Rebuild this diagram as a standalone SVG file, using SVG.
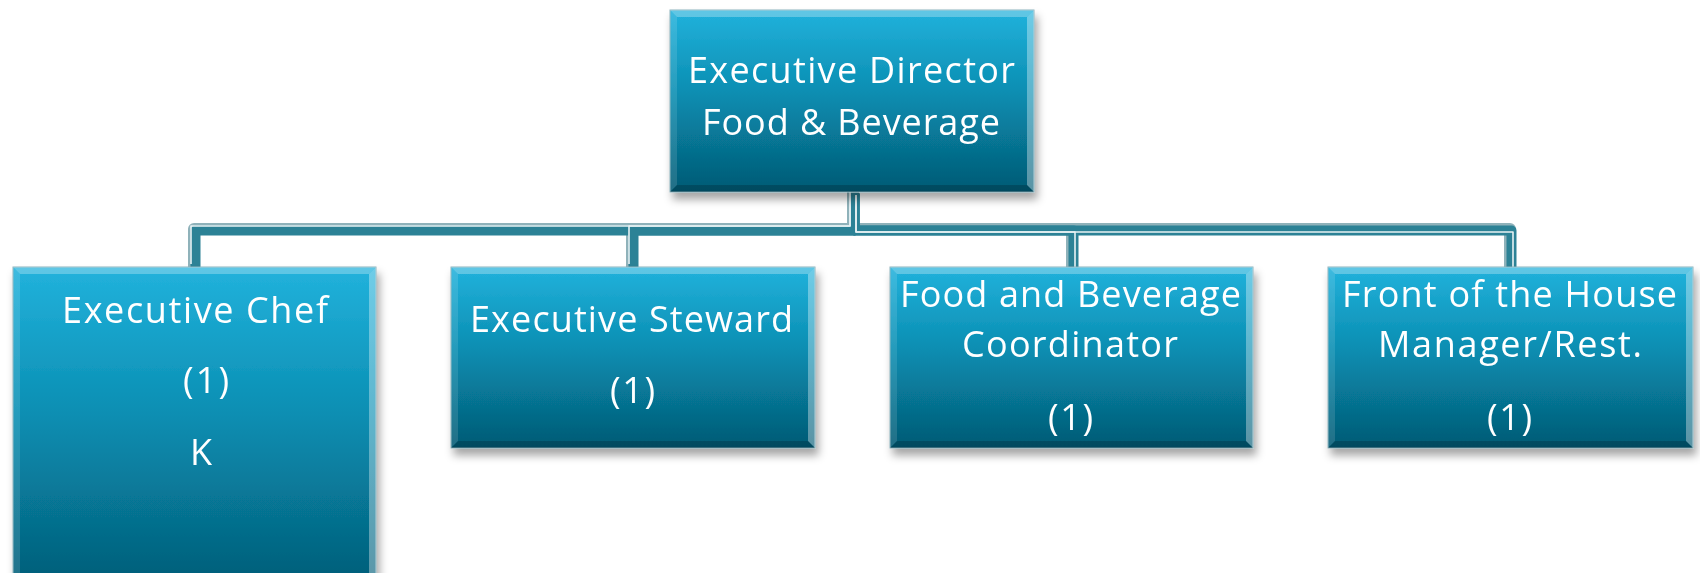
<svg xmlns="http://www.w3.org/2000/svg" width="1700" height="573" viewBox="0 0 1700 573">
<defs>
  <linearGradient id="boxfill" x1="0" y1="0" x2="0" y2="1">
    <stop offset="0" stop-color="#22b2dc"/>
    <stop offset="0.45" stop-color="#0a8eb2"/>
    <stop offset="1" stop-color="#035a74"/>
  </linearGradient>
  <filter id="shadow" x="-10%" y="-10%" width="125%" height="135%">
    <feGaussianBlur in="SourceAlpha" stdDeviation="4"/>
    <feOffset dx="3" dy="7" result="b"/>
    <feFlood flood-color="#000" flood-opacity="0.35"/>
    <feComposite in2="b" operator="in" result="s"/>
    <feMerge><feMergeNode in="s"/><feMergeNode in="SourceGraphic"/></feMerge>
  </filter>
  <path id="c1" d="M853,192 V229 H194 V267"/>
  <path id="c2" d="M853,192 V229 H632 V267"/>
  <path id="c3" d="M853,192 V229 H1072 V267"/>
  <path id="c4" d="M853,192 V229 H1510 V267"/>
</defs>
<style>
  .conn { fill: none; stroke: #2c8296; stroke-width: 10; stroke-linejoin: round; }
  .connout { fill: none; stroke: #8fb2ba; stroke-width: 12; stroke-linejoin: round; }
  .connhl { fill: none; stroke: #e8f2f4; stroke-width: 1.6; stroke-linejoin: round; }
  .box { fill: url(#boxfill); stroke: #8eb4be; stroke-width: 1; }
  .bvt { fill: #ffffff; fill-opacity: 0.28; }
  .bvl { fill: #ffffff; fill-opacity: 0.12; }
  .bvr { fill: #ffffff; fill-opacity: 0.35; }
  .bvb { fill: #000000; fill-opacity: 0.18; }
  .lbl { font-family: "Open Sans", "Liberation Sans", sans-serif; font-size: 36px; fill: #ffffff; }
</style>

<g id="connectors">
  <use href="#c1" class="connout"/>
  <use href="#c2" class="connout"/>
  <use href="#c3" class="connout"/>
  <use href="#c4" class="connout"/>
  <use href="#c1" class="conn" transform="translate(1.5,1.5)"/>
  <use href="#c2" class="conn" transform="translate(1.5,1.5)"/>
  <use href="#c3" class="conn" transform="translate(1.5,1.5)"/>
  <use href="#c4" class="conn" transform="translate(1.5,1.5)"/>
  <use href="#c1" class="connhl" transform="translate(-3,-3)"/>
  <use href="#c2" class="connhl" transform="translate(-3,-3)"/>
  <use href="#c3" class="connhl" transform="translate(3,3)"/>
  <use href="#c4" class="connhl" transform="translate(3,3)"/>
</g>

<g id="executive-director" filter="url(#shadow)">
  <rect class="box" x="670" y="10" width="364" height="182"/>
  <polygon class="bvt" points="670,10 1034,10 1027,17 677,17"/>
  <polygon class="bvl" points="670,10 677,17 677,185 670,192"/>
  <polygon class="bvr" points="1034,10 1034,192 1027,185 1027,17"/>
  <polygon class="bvb" points="670,192 677,185 1027,185 1034,192"/>
  <text class="lbl" x="688" y="83" textLength="327" lengthAdjust="spacing">Executive Director</text>
  <text class="lbl" x="702" y="135" textLength="298" lengthAdjust="spacing">Food &amp; Beverage</text>
</g>

<g id="executive-chef" filter="url(#shadow)">
  <rect class="box" x="13" y="267" width="363" height="330"/>
  <polygon class="bvt" points="13,267 376,267 369,274 20,274"/>
  <polygon class="bvl" points="13,267 20,274 20,590 13,597"/>
  <polygon class="bvr" points="376,267 376,597 369,590 369,274"/>
  <text class="lbl" x="62" y="323" textLength="266" lengthAdjust="spacing">Executive Chef</text>
  <text class="lbl" x="183" y="393" textLength="46" lengthAdjust="spacing">(1)</text>
  <text class="lbl" x="190" y="465">K</text>
</g>

<g id="executive-steward" filter="url(#shadow)">
  <rect class="box" x="451" y="267" width="364" height="181"/>
  <polygon class="bvt" points="451,267 815,267 808,274 458,274"/>
  <polygon class="bvl" points="451,267 458,274 458,441 451,448"/>
  <polygon class="bvr" points="815,267 815,448 808,441 808,274"/>
  <polygon class="bvb" points="451,448 458,441 808,441 815,448"/>
  <text class="lbl" x="470" y="332" textLength="323" lengthAdjust="spacing">Executive Steward</text>
  <text class="lbl" x="610" y="403" textLength="45" lengthAdjust="spacing">(1)</text>
</g>

<g id="fb-coordinator" filter="url(#shadow)">
  <rect class="box" x="890" y="267" width="363" height="181"/>
  <polygon class="bvt" points="890,267 1253,267 1246,274 897,274"/>
  <polygon class="bvl" points="890,267 897,274 897,441 890,448"/>
  <polygon class="bvr" points="1253,267 1253,448 1246,441 1246,274"/>
  <polygon class="bvb" points="890,448 897,441 1246,441 1253,448"/>
  <text class="lbl" x="900" y="307" textLength="341" lengthAdjust="spacing">Food and Beverage</text>
  <text class="lbl" x="962" y="357" textLength="216" lengthAdjust="spacing">Coordinator</text>
  <text class="lbl" x="1048" y="430" textLength="45" lengthAdjust="spacing">(1)</text>
</g>

<g id="front-of-house" filter="url(#shadow)">
  <rect class="box" x="1328" y="267" width="365" height="181"/>
  <polygon class="bvt" points="1328,267 1693,267 1686,274 1335,274"/>
  <polygon class="bvl" points="1328,267 1335,274 1335,441 1328,448"/>
  <polygon class="bvr" points="1693,267 1693,448 1686,441 1686,274"/>
  <polygon class="bvb" points="1328,448 1335,441 1686,441 1693,448"/>
  <text class="lbl" x="1342" y="307" textLength="335" lengthAdjust="spacing">Front of the House</text>
  <text class="lbl" x="1378" y="357" textLength="264" lengthAdjust="spacing">Manager/Rest.</text>
  <text class="lbl" x="1487" y="430" textLength="45" lengthAdjust="spacing">(1)</text>
</g>
</svg>
